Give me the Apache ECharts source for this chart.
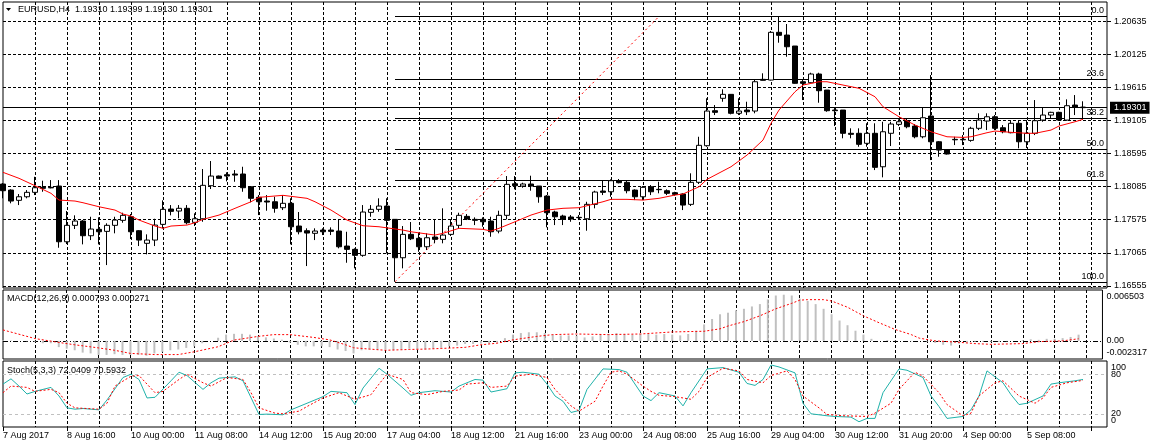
<!DOCTYPE html>
<html>
<head>
<meta charset="utf-8">
<script src="https://cdn.jsdelivr.net/npm/echarts@6/dist/echarts.min.js"></script>
<style>
html, body { margin: 0; padding: 0; background: #fff; }
#chart { width: 1150px; height: 448px; }
</style>
</head>
<body>
<div id="chart"></div>
<script>
// bar time labels, one every 8 H4 bars
const timeLabels = ['7 Aug 2017', '8 Aug 16:00', '10 Aug 00:00', '11 Aug 08:00', '14 Aug 12:00', '15 Aug 20:00',
  '17 Aug 04:00', '18 Aug 12:00', '21 Aug 16:00', '23 Aug 00:00', '24 Aug 08:00', '25 Aug 16:00',
  '29 Aug 04:00', '30 Aug 12:00', '31 Aug 20:00', '4 Sep 00:00', '5 Sep 08:00']

// open, close, low, high
const ohlc = [
  [1.18125, 1.18022, 1.17905, 1.18140], [1.18032, 1.17863, 1.17828, 1.18043], [1.17874, 1.17929, 1.17801, 1.17971],
  [1.17929, 1.17997, 1.17905, 1.18032], [1.17997, 1.18068, 1.17955, 1.18237], [1.18074, 1.18059, 1.18006, 1.18176],
  [1.18074, 1.18066, 1.18059, 1.18186], [1.18094, 1.17236, 1.17144, 1.18186], [1.17236, 1.17489, 1.17201, 1.17709],
  [1.17489, 1.17555, 1.17432, 1.17643], [1.17555, 1.17329, 1.17196, 1.17570], [1.17329, 1.17432, 1.17262, 1.17621],
  [1.17427, 1.17390, 1.17196, 1.17612], [1.17396, 1.17489, 1.16877, 1.17520], [1.17489, 1.17570, 1.17366, 1.17621],
  [1.17566, 1.17643, 1.17529, 1.17683], [1.17621, 1.17390, 1.17278, 1.17663], [1.17406, 1.17262, 1.17170, 1.17416],
  [1.17212, 1.17262, 1.17042, 1.17350], [1.17262, 1.17493, 1.17170, 1.17590], [1.17504, 1.17735, 1.17443, 1.17874],
  [1.17740, 1.17704, 1.17643, 1.17801], [1.17709, 1.17751, 1.17597, 1.17801], [1.17751, 1.17529, 1.17504, 1.17801],
  [1.17535, 1.17590, 1.17478, 1.17674], [1.17590, 1.18105, 1.17544, 1.18356], [1.18099, 1.18248, 1.18048, 1.18479],
  [1.18248, 1.18213, 1.18210, 1.18255], [1.18268, 1.18248, 1.18166, 1.18305], [1.18279, 1.18263, 1.18160, 1.18340],
  [1.18279, 1.18068, 1.18006, 1.18391], [1.18083, 1.17905, 1.17843, 1.18086], [1.17920, 1.17852, 1.17647, 1.17955],
  [1.17863, 1.17848, 1.17714, 1.17955], [1.17852, 1.17751, 1.17683, 1.17929], [1.17760, 1.17828, 1.17724, 1.17955],
  [1.17828, 1.17467, 1.17196, 1.17905], [1.17478, 1.17390, 1.17350, 1.17694], [1.17406, 1.17370, 1.16862, 1.17443],
  [1.17366, 1.17401, 1.17262, 1.17443], [1.17416, 1.17390, 1.17339, 1.17443], [1.17416, 1.17396, 1.17339, 1.17458],
  [1.17401, 1.17159, 1.17135, 1.17586], [1.17170, 1.17119, 1.16913, 1.17390], [1.17119, 1.17027, 1.16827, 1.17135],
  [1.17027, 1.17694, 1.17005, 1.17801], [1.17689, 1.17735, 1.17621, 1.17801], [1.17735, 1.17786, 1.17698, 1.17905],
  [1.17786, 1.17566, 1.17058, 1.17905], [1.17581, 1.16990, 1.16620, 1.17586], [1.16990, 1.17350, 1.16827, 1.17478],
  [1.17350, 1.17282, 1.17262, 1.17540], [1.17289, 1.17159, 1.17082, 1.17375], [1.17159, 1.17298, 1.17108, 1.17366],
  [1.17309, 1.17273, 1.17212, 1.17581], [1.17273, 1.17339, 1.17212, 1.17751], [1.17350, 1.17478, 1.17324, 1.17581],
  [1.17489, 1.17643, 1.17443, 1.17683], [1.17627, 1.17586, 1.17570, 1.17663], [1.17581, 1.17566, 1.17493, 1.17612],
  [1.17581, 1.17544, 1.17467, 1.17612], [1.17555, 1.17390, 1.17313, 1.17621], [1.17401, 1.17643, 1.17366, 1.17714],
  [1.17643, 1.18120, 1.17581, 1.18248], [1.18129, 1.18099, 1.18043, 1.18248], [1.18094, 1.18125, 1.18068, 1.18145],
  [1.18125, 1.18094, 1.18022, 1.18253], [1.18094, 1.17929, 1.17837, 1.18094], [1.17940, 1.17683, 1.17458, 1.17955],
  [1.17694, 1.17621, 1.17493, 1.17714], [1.17632, 1.17581, 1.17493, 1.17652], [1.17617, 1.17586, 1.17544, 1.17647],
  [1.17612, 1.17607, 1.17570, 1.17647], [1.17590, 1.17812, 1.17406, 1.17852], [1.17812, 1.18002, 1.17751, 1.18022],
  [1.18017, 1.17997, 1.17955, 1.18186], [1.18006, 1.18176, 1.17929, 1.18197], [1.18176, 1.18145, 1.18136, 1.18202],
  [1.18151, 1.18022, 1.17982, 1.18176], [1.18032, 1.17929, 1.17878, 1.18043], [1.17929, 1.18074, 1.17878, 1.18094],
  [1.18083, 1.18006, 1.17955, 1.18109], [1.18043, 1.18038, 1.17982, 1.18160], [1.18022, 1.17982, 1.17955, 1.18043],
  [1.17991, 1.17966, 1.17945, 1.18006], [1.17971, 1.17801, 1.17724, 1.17982], [1.17812, 1.18151, 1.17786, 1.18290],
  [1.18151, 1.18721, 1.18125, 1.18853], [1.18715, 1.19249, 1.18699, 1.19445], [1.19254, 1.19229, 1.19187, 1.19341],
  [1.19445, 1.19506, 1.19392, 1.19583], [1.19506, 1.19214, 1.19198, 1.19511], [1.19214, 1.19249, 1.19187, 1.19445],
  [1.19264, 1.19238, 1.19187, 1.19392], [1.19249, 1.19700, 1.19214, 1.19742], [1.19737, 1.19722, 1.19719, 1.19830],
  [1.19726, 1.20461, 1.19719, 1.20481], [1.20461, 1.20415, 1.20301, 1.20701], [1.20419, 1.20239, 1.20085, 1.20589],
  [1.20250, 1.19676, 1.19670, 1.20250], [1.19700, 1.19676, 1.19418, 1.19726], [1.19685, 1.19819, 1.19676, 1.19839],
  [1.19819, 1.19562, 1.19377, 1.19839], [1.19572, 1.19254, 1.19238, 1.19572], [1.19264, 1.19254, 1.19018, 1.19295],
  [1.19264, 1.18906, 1.18829, 1.19264], [1.18906, 1.18890, 1.18829, 1.18983], [1.18906, 1.18736, 1.18699, 1.18983],
  [1.18752, 1.18906, 1.18699, 1.19060], [1.18906, 1.18382, 1.18340, 1.19060], [1.18391, 1.18930, 1.18228, 1.19084],
  [1.18906, 1.19049, 1.18710, 1.19084], [1.19044, 1.19084, 1.19018, 1.19121], [1.19100, 1.19007, 1.18983, 1.19137],
  [1.19018, 1.18853, 1.18829, 1.19049], [1.18853, 1.19146, 1.18829, 1.19300], [1.19172, 1.18776, 1.18494, 1.19803],
  [1.18776, 1.18648, 1.18545, 1.18787], [1.18648, 1.18587, 1.18579, 1.18656], [1.18813, 1.18806, 1.18725, 1.18853],
  [1.18806, 1.18813, 1.18725, 1.18879], [1.18797, 1.18983, 1.18776, 1.19007], [1.18983, 1.19110, 1.18956, 1.19214],
  [1.19095, 1.19161, 1.18956, 1.19214], [1.19161, 1.18983, 1.18956, 1.19187], [1.18992, 1.18930, 1.18906, 1.19033],
  [1.18915, 1.19060, 1.18906, 1.19110], [1.19060, 1.18776, 1.18675, 1.19110], [1.18776, 1.18906, 1.18679, 1.19110],
  [1.18906, 1.19100, 1.18879, 1.19418], [1.19110, 1.19187, 1.19084, 1.19306], [1.19187, 1.19229, 1.19137, 1.19238],
  [1.19229, 1.19110, 1.19100, 1.19238], [1.19110, 1.19331, 1.19100, 1.19429], [1.19341, 1.19306, 1.19187, 1.19495],
  [1.19310, 1.19301, 1.19130, 1.19399]
]

// moving average: [bar, price]
const maLine = [[0, 1.18305], [2, 1.18213], [4, 1.18099], [6, 1.17982], [7, 1.17878], [9, 1.17863], [10, 1.17837],
  [12, 1.17775], [14, 1.17724], [15, 1.17663], [16, 1.17632], [17, 1.17570], [19, 1.17478], [20, 1.17443],
  [21, 1.17478], [23, 1.17493], [24, 1.17529], [25, 1.17581], [27, 1.17647], [29, 1.17751], [31, 1.17852],
  [32, 1.17920], [35, 1.17951], [38, 1.17905], [39, 1.17852], [41, 1.17724], [43, 1.17570], [45, 1.17483],
  [47, 1.17467], [50, 1.17416], [51, 1.17390], [54, 1.17339], [55, 1.17366], [57, 1.17443], [60, 1.17427],
  [61, 1.17401], [62, 1.17443], [64, 1.17544], [66, 1.17647], [68, 1.17724], [70, 1.17751], [72, 1.17760],
  [75, 1.17852], [76, 1.17889], [78, 1.17889], [80, 1.17878], [82, 1.17905], [84, 1.17955], [85, 1.17971],
  [87, 1.18083], [88, 1.18197], [91, 1.18391], [93, 1.18571], [95, 1.18802], [96, 1.19060], [97, 1.19264],
  [99, 1.19546], [100, 1.19649], [102, 1.19700], [103, 1.19700], [105, 1.19649], [107, 1.19599], [109, 1.19469],
  [110, 1.19315], [112, 1.19161], [114, 1.19033], [116, 1.18930], [118, 1.18853], [120, 1.18843], [121, 1.18853],
  [123, 1.18915], [124, 1.18941], [126, 1.18921], [128, 1.18906], [129, 1.18906], [131, 1.18956], [132, 1.19018],
  [134, 1.19084], [135, 1.19121]]

const macdHist = [
  0.0001, 0.00005, 0, -0.00005, -0.0001, -0.0003, -0.0003, -0.0008, -0.001, -0.0012,
  -0.0015, -0.0016, -0.0018, -0.0018, -0.0017, -0.0018, -0.0018, -0.0018, -0.0019, -0.0016,
  -0.0014, -0.0012, -0.0011, -0.0009, -0.0007, -0.0003, 0, 0.0004, 0.0008, 0.0009,
  0.0009, 0.0008, 0.0006, 0.00045, 0.0003, 0.00015, -0.0002, -0.0005, -0.0007, -0.0007,
  -0.0007, -0.0008, -0.0011, -0.0013, -0.0016, -0.0012, -0.0011, -0.0011, -0.0011, -0.0012,
  -0.0011, -0.001, -0.0011, -0.0011, -0.001, -0.0009, -0.0007, -0.0006, -0.0004, -0.0004,
  -0.00035, -0.00035, -0.0002, 0.00035, 0.0008, 0.001, 0.0011, 0.0011, 0.001, 0.0008,
  0.0007, 0.0007, 0.00065, 0.00044, 0.00057, 0.0008, 0.00088, 0.001, 0.00088, 0.0008,
  0.00088, 0.00088, 0.0008, 0.00088, 0.0008, 0.0007, 0.00088, 0.0013, 0.0021, 0.0028,
  0.0034, 0.0036, 0.0039, 0.0041, 0.0044, 0.0047, 0.0053, 0.0058, 0.0059, 0.0058,
  0.0054, 0.0051, 0.0047, 0.0041, 0.0034, 0.0026, 0.002, 0.0013, 0.0008, 0.00026,
  0, 0.0001, 0.00005, 0, -0.00005, 0, -0.0001, -0.00026, -0.0005, -0.0006,
  -0.00035, -0.0002, -0.0001, -0.0001, -0.0001, -0.0001, -0.00005, 0, 0.0001, 0.0002,
  0.00013, 0.00026, 0.00026, 0.00035, 0.0005, 0.000793]

const macdSignal = [[0, 0.0014], [4, 0.0003], [7, -0.0002], [9, -0.0005], [12, -0.0009], [14, -0.0012],
  [16, -0.0016], [19, -0.00175], [22, -0.00175], [24, -0.0014], [27, -0.00075], [29, 0.0001], [32, 0.00057],
  [34, 0.0008], [36, 0.0008], [39, 0.00044], [41, 0.00013], [43, -0.0005], [44, -0.00088], [46, -0.00105],
  [48, -0.0012], [51, -0.0011], [53, -0.00105], [55, -0.00097], [58, -0.00083], [60, -0.0005], [62, -0.0003],
  [64, 0.00013], [67, 0.00057], [69, 0.0008], [72, 0.00088], [76, 0.0008], [80, 0.00088], [84, 0.00114],
  [88, 0.00123], [90, 0.00154], [91, 0.0019], [93, 0.00246], [95, 0.0032], [97, 0.0041], [99, 0.0048],
  [100, 0.0052], [101, 0.00527], [103, 0.00527], [104, 0.0051], [106, 0.0043], [108, 0.0032], [110, 0.0023],
  [112, 0.00145], [114, 0.0008], [115, 0.00035], [117, 0], [120, -0.00018], [122, -0.00035], [124, -0.00044],
  [128, -0.00035], [130, -0.0001], [133, 0], [135, 0.000271]]

const stochMain = [[0, 65], [1, 73], [2, 62], [3, 50], [4, 54], [6, 60], [7, 47], [8, 29], [9, 27], [10, 28],
  [12, 26], [13, 41], [15, 75], [16, 80], [17, 72], [18, 44], [19, 45], [21, 70], [22, 83], [23, 78], [25, 57],
  [26, 67], [27, 74], [29, 76], [30, 70], [32, 19], [33, 19.5], [35, 18.5], [36, 26], [38, 36], [40, 46],
  [41, 54], [43, 52], [44, 34], [45, 59], [47, 89], [48, 80], [50, 59], [51, 48], [52, 52], [54, 55], [56, 53],
  [57, 62], [59, 72], [60, 71], [61, 53], [63, 58], [64, 82], [65, 83], [67, 80], [68, 65], [69, 47], [70, 39],
  [71, 22], [72, 25], [73, 57], [75, 88], [77, 87], [78, 83], [80, 47], [81, 40], [82, 52], [84, 47], [85, 32],
  [86, 52], [88, 88], [90, 90], [92, 83], [93, 66], [94, 63], [95, 72], [96, 94], [97, 91], [99, 82], [100, 36],
  [101, 20], [103, 17], [104, 16], [106, 15], [107, 8], [108, 13], [109, 13], [110, 52], [112, 88], [113, 86],
  [115, 75], [116, 47], [117, 31], [118, 13], [120, 16], [121, 26], [122, 47], [123, 85], [125, 67], [126, 49],
  [127, 34], [128, 36], [130, 47], [131, 65], [132, 67], [134, 70], [135, 72.0409]]

const stochSignal = [[0, 52], [1, 62], [3, 60], [4, 54], [6, 57], [7, 52], [8, 36], [9, 29], [12, 27], [13, 36],
  [14, 62], [16, 77], [17, 78], [19, 52], [20, 54], [22, 72], [23, 80], [25, 67], [26, 62], [28, 75], [30, 72],
  [31, 52], [32, 29], [34, 21], [35, 20], [37, 24], [38, 31], [40, 44], [42, 52], [43, 47], [44, 42], [46, 49],
  [47, 65], [48, 80], [50, 72], [51, 52], [53, 49], [55, 54], [57, 56], [58, 65], [60, 67], [61, 60], [63, 62],
  [64, 77], [66, 80], [68, 75], [69, 57], [71, 32], [72, 24], [74, 39], [75, 62], [76, 83], [77, 85], [78, 80],
  [80, 62], [81, 54], [82, 48], [84, 46], [86, 42], [87, 54], [88, 75], [90, 89], [92, 85], [93, 72], [95, 67],
  [96, 78], [98, 85], [99, 72], [100, 47], [102, 29], [103, 19], [105, 17], [108, 16], [109, 21], [111, 36],
  [112, 57], [114, 83], [115, 77], [117, 52], [118, 34], [120, 17], [121, 21], [122, 47], [124, 67], [125, 70],
  [127, 47], [129, 36], [130, 44], [131, 60], [133, 67], [135, 70.5932]]

const priceTicks = [1.20635, 1.20125, 1.19615, 1.19105, 1.18595, 1.18085, 1.17575, 1.17065, 1.16555]
const macdTicks = [0.006503, 0, -0.002317]
const macdTickLabels = ['0.006503', '0.00', '-0.002317']
const stochTicks = [100, 0]
const stochLevels = [80, 20]
const fibRatios = [0, 23.6, 38.2, 50, 61.8, 100]
const fibHigh = 1.20705
const fibLow = 1.16620
const fibFrom = 49 // bar of the low anchor
const fibTo = 82 // bar of the high anchor
const lastPrice = 1.19301

const mainTitle = 'EURUSD,H4  1.19310 1.19399 1.19130 1.19301'
const macdTitle = 'MACD(12,26,9) 0.000793 0.000271'
const stochTitle = 'Stoch(5,3,3) 72.0409 70.5932'

const BARS = 139
const FONT = 'Liberation Sans'
const FS = 9
const cats = Array.from({ length: BARS }, (_, i) => i)

function xAxisFor(gi, withLabels) {
  return {
    type: 'category',
    gridIndex: gi,
    data: cats,
    boundaryGap: false,
    axisLine: { show: false },
    axisTick: { show: withLabels, interval: i => i % 8 === 0, length: 4, lineStyle: { color: '#000' } },
    axisLabel: {
      show: withLabels,
      interval: i => i % 8 === 0,
      formatter: (v, i) => timeLabels[i / 8] || '',
      align: 'left',
      margin: 4,
      color: '#000',
      fontSize: FS,
      fontFamily: FONT
    },
    splitLine: { show: true, interval: i => i % 4 === 0 && i > 0, lineStyle: { color: '#000', type: [3, 2], width: 1 } }
  }
}

function pick(ticks, labels, v) {
  let best = 0
  ticks.forEach((t, i) => { if (Math.abs(t - v) < Math.abs(ticks[best] - v)) best = i })
  return { text: labels[best], i: best }
}

// first/last labels sit inside the pane like the terminal draws them
function edgeLabel(ticks, labels) {
  return v => {
    const r = pick(ticks, labels, v)
    if (r.i === 0) return '{t|' + r.text + '}'
    if (r.i === ticks.length - 1) return '{b|' + r.text + '}'
    return r.text
  }
}

const edgeRich = {
  t: { padding: [13, 0, 0, 0], fontSize: FS, fontFamily: FONT, color: '#000' },
  b: { padding: [0, 0, 13, 0], fontSize: FS, fontFamily: FONT, color: '#000' }
}

const fibLines = fibRatios.map(r => {
  const price = fibHigh - (fibHigh - fibLow) * r / 100
  return [{ coord: [fibFrom, price], name: r.toFixed(1) }, { coord: [BARS - 1, price] }]
})

const chart = echarts.init(document.getElementById('chart'))
chart.setOption({
  animation: false,
  backgroundColor: '#fff',
  textStyle: { fontFamily: FONT },
  grid: [
    { left: 3, top: 2, width: 1104, height: 286 },
    { left: 3, top: 290, width: 1104, height: 69 },
    { left: 3, top: 361, width: 1104, height: 66 }
  ].map(g => Object.assign({ show: true, borderColor: '#000', borderWidth: 1, backgroundColor: '#fff' }, g)),
  xAxis: [xAxisFor(0, false), xAxisFor(1, false), xAxisFor(2, true)],
  yAxis: [
    {
      type: 'value', gridIndex: 0, position: 'right', min: 1.16524, max: 1.20928,
      splitLine: { show: false }, axisLine: { show: false },
      axisTick: { show: true, customValues: priceTicks, length: 4, lineStyle: { color: '#000' } },
      axisLabel: { customValues: priceTicks, formatter: v => v.toFixed(5), margin: 7, color: '#000', fontSize: FS, fontFamily: FONT }
    },
    {
      type: 'value', gridIndex: 1, position: 'right', min: -0.002317, max: 0.006503,
      splitLine: { show: false }, axisLine: { show: false }, axisTick: { show: false },
      axisLabel: {
        customValues: macdTicks, formatter: edgeLabel(macdTicks, macdTickLabels), rich: edgeRich,
        showMinLabel: true, showMaxLabel: true, margin: 4, color: '#000', fontSize: FS, fontFamily: FONT
      }
    },
    {
      type: 'value', gridIndex: 2, position: 'right', min: 0, max: 100,
      splitLine: { show: false }, axisLine: { show: false }, axisTick: { show: false },
      axisLabel: {
        customValues: stochTicks, formatter: edgeLabel(stochTicks, stochTicks.map(String)), rich: edgeRich,
        showMinLabel: true, showMaxLabel: true, margin: 4, color: '#000', fontSize: FS, fontFamily: FONT
      }
    }
  ],
  graphic: [
    { type: 'polygon', shape: { points: [[6, 8], [11, 8], [8.5, 11]] }, style: { fill: '#000' } },
    { type: 'text', x: 18, y: 10, style: { text: mainTitle, fontSize: FS, fontFamily: FONT, fill: '#000', verticalAlign: 'middle' } },
    { type: 'text', x: 7, y: 299, style: { text: macdTitle, fontSize: FS, fontFamily: FONT, fill: '#000', verticalAlign: 'middle' } },
    { type: 'text', x: 7, y: 371, style: { text: stochTitle, fontSize: FS, fontFamily: FONT, fill: '#000', verticalAlign: 'middle' } }
  ],
  series: [
    {
      // price grid
      type: 'line', xAxisIndex: 0, yAxisIndex: 0, data: [], silent: true,
      markLine: {
        silent: true, symbol: 'none', z: 1, precision: 6, label: { show: false },
        lineStyle: { color: '#000', type: [3, 2], width: 1 },
        data: priceTicks.map(v => ({ yAxis: v }))
      }
    },
    {
      // fibonacci retracement
      type: 'line', xAxisIndex: 0, yAxisIndex: 0, data: [], silent: true,
      markLine: {
        silent: true, symbol: 'none', z: 3, precision: 6,
        lineStyle: { color: '#000', type: 'solid', width: 1 },
        label: { show: true, position: 'insideEndTop', formatter: '{b}', distance: [3, 1], color: '#000', fontSize: FS, fontFamily: FONT },
        data: fibLines.concat([[
          { coord: [fibFrom, fibLow], lineStyle: { color: '#ff0000', type: [2, 3] }, label: { show: false } },
          { coord: [fibTo, fibHigh] }
        ]])
      }
    },
    {
      // current price line
      type: 'line', xAxisIndex: 0, yAxisIndex: 0, data: [], silent: true,
      markLine: {
        silent: true, symbol: 'none', z: 3, precision: 6,
        lineStyle: { color: '#000', type: 'solid', width: 1 },
        label: {
          show: true, position: 'end', formatter: lastPrice.toFixed(5), distance: 3,
          backgroundColor: '#000', color: '#fff', padding: [2, 3, 1, 4], fontSize: FS, fontFamily: FONT
        },
        data: [{ yAxis: lastPrice }]
      }
    },
    {
      type: 'candlestick', xAxisIndex: 0, yAxisIndex: 0, data: ohlc, barWidth: 5, z: 4,
      itemStyle: { color: '#fff', color0: '#000', borderColor: '#000', borderColor0: '#000', borderWidth: 1 }
    },
    {
      type: 'line', xAxisIndex: 0, yAxisIndex: 0, data: maLine, z: 5,
      symbol: 'none', lineStyle: { color: '#ff0000', width: 1 }
    },
    {
      type: 'bar', xAxisIndex: 1, yAxisIndex: 1, data: macdHist, barWidth: 2,
      itemStyle: { color: '#c0c0c0' },
      markLine: {
        silent: true, symbol: 'none', z: 1, precision: 6, label: { show: false },
        lineStyle: { color: '#000', type: [5, 2, 1, 2], width: 1 },
        data: [{ yAxis: 0 }]
      }
    },
    {
      type: 'line', xAxisIndex: 1, yAxisIndex: 1, data: macdSignal, z: 5,
      symbol: 'none', lineStyle: { color: '#ff0000', width: 1, type: [2, 2] }
    },
    {
      type: 'line', xAxisIndex: 2, yAxisIndex: 2, data: stochMain, z: 5,
      symbol: 'none', lineStyle: { color: '#20b2aa', width: 1 },
      markLine: {
        silent: true, symbol: 'none', z: 1, precision: 6,
        lineStyle: { color: '#c0c0c0', type: [3, 3], width: 1 },
        label: { show: true, position: 'end', distance: 4, formatter: p => String(p.value), color: '#000', fontSize: FS, fontFamily: FONT },
        data: stochLevels.map(v => ({ yAxis: v }))
      }
    },
    {
      type: 'line', xAxisIndex: 2, yAxisIndex: 2, data: stochSignal, z: 5,
      symbol: 'none', lineStyle: { color: '#ff0000', width: 1, type: [2, 2] }
    }
  ]
})
</script>
</body>
</html>
